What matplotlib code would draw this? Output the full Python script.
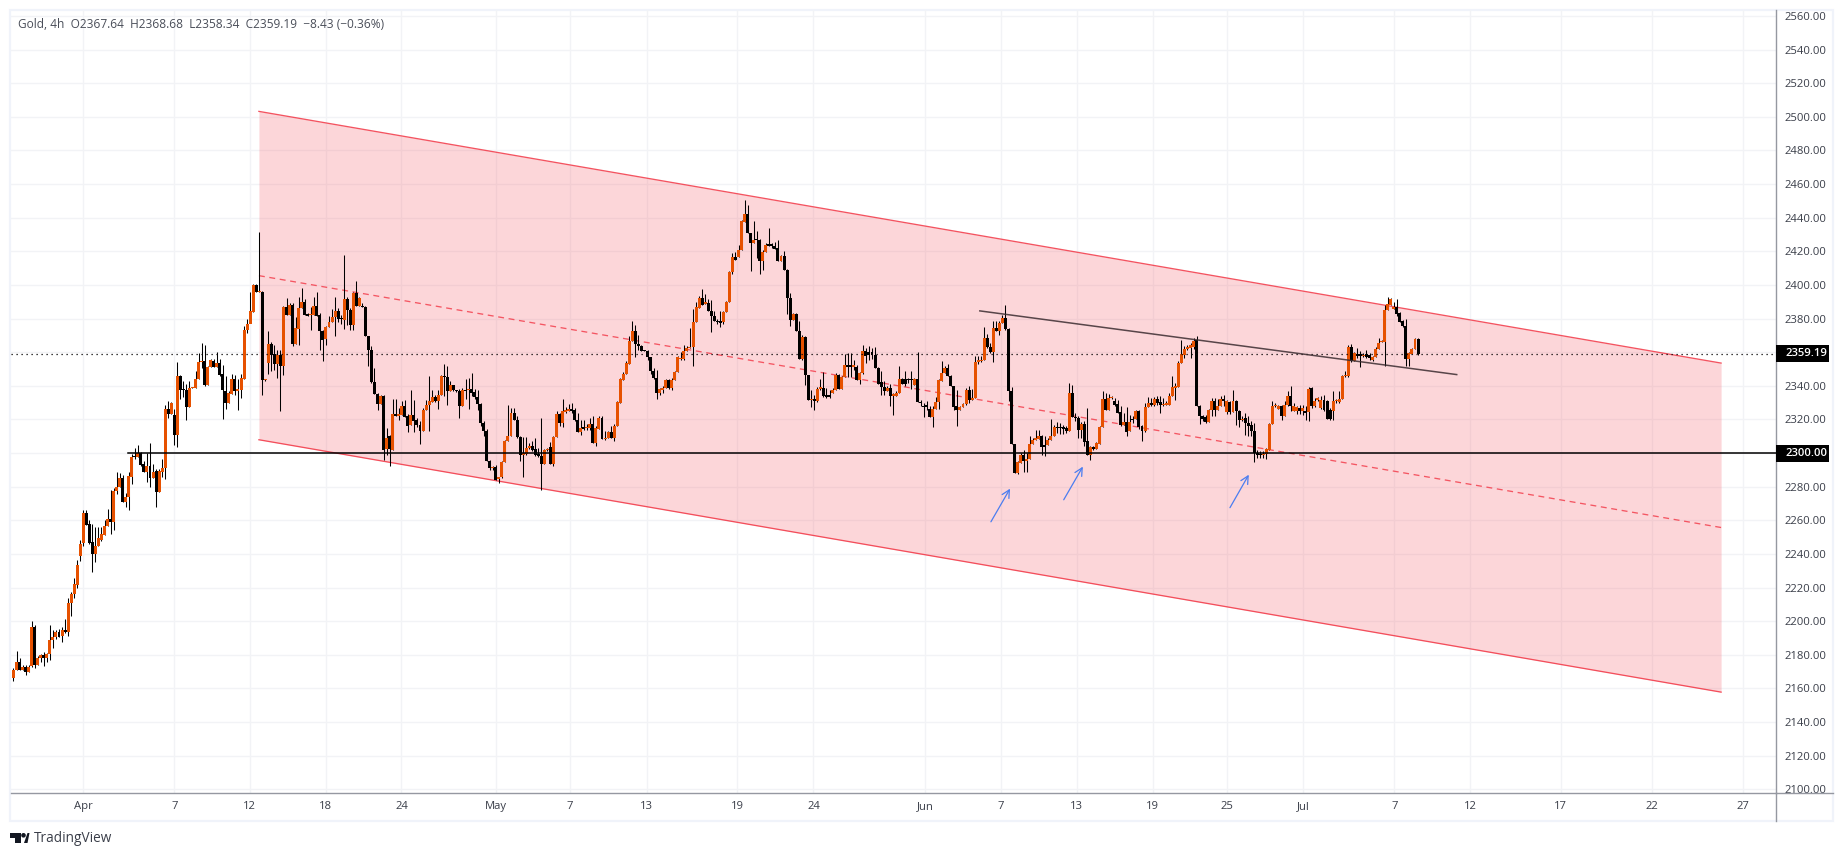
import numpy as np
import matplotlib
matplotlib.use("Agg")
import matplotlib.pyplot as plt
from matplotlib.patches import Polygon, Rectangle, Circle
from matplotlib.lines import Line2D
from matplotlib.transforms import Affine2D

plt.rcParams['font.family'] = ['Open Sans', 'DejaVu Sans']

opens = [
2166,2171,2176,2171,2173,2170,2173.3,2196.5,2174,2178,
2180,2178,2180.5,2188.6,2190.6,2193.7,2191,2195,2193.7,2211,
2216,2221.7,2239,2246.3,2264.5,2257.8,2247,2239.7,2244.5,2248.5,
2251.4,2256.4,2260.7,2258.8,2277.4,2279.6,2285,2270.7,2273.6,2286,
2297.8,2297.4,2300,2293.5,2289,2292.5,2285,2289.5,2276.6,2289,
2291,2326,2323,2322.8,2311,2346,2338,2337.7,2327.6,2338.5,
2338.7,2344,2354,2355,2340.3,2351.2,2355,2351.4,2353.8,2346.8,
2337,2329.6,2335.3,2344,2337,2337.3,2344.2,2373,2377,2384,
2400,2395.6,2396,2343.2,2353.7,2365,2359,2353,2358.5,2351.5,
2387,2381.9,2388.2,2365,2374,2386.2,2390,2382.7,2382,2382.3,
2387.6,2382,2372.8,2368,2374.7,2377.7,2380.7,2384.5,2380.3,2379.3,
2391.8,2385,2376.3,2395.4,2387.2,2387.4,2386.8,2369.8,2361.3,2342,
2335,2329,2334,2302.4,2310,2302,2322.8,2322.2,2322.8,2328,
2322.2,2316.5,2322.8,2319.4,2316.6,2312.9,2325.8,2328.4,2330.3,2333.5,
2330.7,2334.7,2346,2345.2,2336.7,2340.4,2337.3,2336.7,2328,2337.7,
2337.3,2338,2336.3,2333.3,2329,2317.8,2313.3,2295.4,2291,2291.7,
2284.5,2285.5,2294.6,2307.3,2310.3,2323.8,2319.8,2309.5,2299,2299.6,
2303.2,2304.4,2302.4,2299.6,2298.4,2293.7,2301.6,2303.8,2293.7,2309.5,
2323.4,2317.8,2324.6,2324.8,2326.2,2325.4,2319.8,2312.3,2315,2314.7,
2314.9,2317.4,2306,2314.5,2320.8,2308.3,2308.7,2312.7,2309,2315.9,
2330,2343.6,2346.8,2353,2366.4,2372.8,2364.8,2363.8,2360.9,2360.9,
2357,2349,2344.6,2336,2337.7,2338.7,2343.6,2338.7,2343.6,2348,
2356,2356,2360.5,2362.5,2362.8,2377.9,2386.2,2392.2,2388.8,2389.2,
2384.7,2381.7,2378.7,2378,2377.7,2383.7,2389.8,2407.5,2416.4,2416.4,
2420.5,2437.2,2442.4,2430.9,2424.9,2426.9,2426.5,2414,2419.5,2423.7,
2423.7,2423.3,2422,2414,2417.4,2409,2392.2,2379.3,2382.9,2372.4,
2355.9,2368.8,2346.2,2331.3,2332.3,2330.7,2338.3,2338.9,2334.3,2334,
2336,2337.7,2346.6,2338.3,2345.2,2352.3,2352.5,2351,2351.3,2343.6,
2347.6,2360.9,2360.3,2360.3,2358.5,2350.6,2342,2339.3,2336.7,2338.7,
2334.1,2334,2335.7,2344,2344,2344,2344,2340.2,2344.2,2330.5,
2328.2,2328.4,2326.2,2321.2,2326.2,2330.5,2342.6,2347.6,2350.6,2345.6,
2339.7,2327.8,2325.8,2327.2,2329.3,2337.7,2331.7,2332.7,2354.1,2354.5,
2355.1,2368.4,2363,2359.9,2374.5,2372.4,2377.3,2380.5,2374,2336.7,
2305.4,2287.9,2294,2299,2295,2296.6,2305.4,2308,2308.5,2310.3,
2305,2304.6,2308,2310.3,2315.7,2315.3,2315.5,2314.9,2312.9,2335.7,
2321.6,2320.8,2313.9,2317.2,2306.9,2298.6,2303.6,2302.2,2305.6,2315.7,
2332.3,2325.8,2332.7,2331,2329,2324.2,2316.9,2318.4,2312.9,2320.2,
2320.2,2324.8,2315.9,2313.3,2327.2,2329.7,2328.4,2332.3,2330.3,2328.4,
2328.4,2328.7,2333.7,2338.9,2339,2353.5,2358.5,2361.9,2362.4,2363,
2367.4,2328,2322.2,2321.2,2318.4,2325.8,2331.1,2325.8,2328.2,2332.1,
2324.2,2330.3,2324.4,2330.7,2325.2,2319.4,2320.8,2317.8,2316.9,2313.3,
2300,2299,2298.8,2299.4,2302,2317.2,2327.8,2326.2,2328.2,2321.8,
2328.7,2334.1,2324.8,2324.8,2326.8,2325.2,2324.8,2324.2,2338.5,2327.8,
2331.7,2326.8,2331.7,2331.1,2325.4,2324.8,2330.7,2330.1,2332.1,2345.6,
2346,2363,2354.5,2359,2358.5,2357.7,2359,2358.3,2355.5,2356.9,
2361.9,2365.8,2365.8,2384.9,2388.2,2385.6,2386.6,2383.3,2378.3,2375.7,
2355.9,2359,2361.9,2367.64]

closes = [
2171,2176,2171,2173,2170,2173,2196.5,2174,2178,2180,
2178,2180.5,2189,2190.6,2193.7,2190.6,2194.7,2193.7,2211,2216.3,
2222.3,2233.6,2246,2264.5,2257.4,2246.7,2239.7,2244.7,2249.6,2252,
2256.6,2260.7,2258.8,2277.4,2279.8,2285,2271,2273.6,2286.5,2297.8,
2297.4,2299.8,2293,2289,2292.5,2285,2289,2276.6,2289.5,2291,
2326.2,2323,2329.8,2311,2346,2337.7,2337.5,2327.6,2338.7,2339,
2344,2354.4,2354.8,2340.3,2351.4,2355.6,2351.4,2353.8,2346.6,2337.3,
2329.6,2335.7,2344,2336.7,2337.5,2344.8,2373.2,2376.8,2384.5,2400.2,
2395.6,2396,2343.2,2344,2365,2358.5,2353,2358.5,2351.5,2386.6,
2381.9,2388,2365,2374.3,2386.2,2390,2382.3,2381.7,2382.9,2387.6,
2381.7,2372.4,2367.4,2375,2378,2381,2384.5,2379.7,2379.7,2391.8,
2385.2,2376.3,2395.4,2387.2,2392,2386.6,2369.4,2361,2342,2335,
2329,2334,2302,2309,2302.4,2323.2,2322.2,2322.8,2328,2321.4,
2315.9,2322.8,2318.8,2316.5,2312.9,2325.8,2328.7,2330.7,2333.5,2330.7,
2334.7,2346,2345.2,2336.7,2340.4,2337.7,2336.7,2328,2337.7,2336.7,
2338,2335.7,2333.3,2329,2317.8,2312.9,2295.4,2290.9,2291.7,2284,
2285.7,2294.6,2307.3,2310.3,2323.8,2319.4,2309.5,2299,2300,2303.2,
2304,2302,2299,2298.4,2293.7,2302,2302.2,2293.7,2309.5,2323.4,
2317.8,2325,2325.4,2326.2,2325.2,2319.6,2312.3,2315,2314.5,2315.5,
2317.3,2306,2314.9,2320.8,2308.3,2309,2312.7,2309,2315.9,2330.3,
2344,2347,2353.5,2366.8,2372.8,2364.8,2363.6,2360.5,2360.5,2357,
2348.6,2344.6,2336,2338,2338.7,2343.6,2338.7,2343.6,2348.2,2356.9,
2356.5,2360.5,2362.5,2363.2,2377.9,2386.8,2392.2,2388.2,2389.4,2384.3,
2381.7,2378.3,2377.7,2377.5,2383.9,2389.8,2407.7,2416.4,2414.6,2420.5,
2438,2442.4,2430.9,2424.9,2426.9,2426.5,2414,2419.5,2423.5,2423.3,
2423.3,2421.5,2414,2417.4,2408.6,2392.2,2379.3,2382.9,2372.4,2355.9,
2368.8,2346.2,2331.3,2332.3,2330.7,2338.3,2338.9,2334,2333.3,2333.5,
2337.7,2346.6,2338.3,2345.2,2352.3,2351,2351,2352.3,2343.6,2347.6,
2360.9,2357.9,2358.1,2358.1,2350.4,2341.2,2339.3,2336.7,2338.7,2334.1,
2334.7,2335.7,2344,2341.2,2341.2,2343.4,2343.4,2344.2,2330.1,2329.7,
2327.2,2327.6,2321.2,2326.2,2330.5,2343.2,2347.6,2350.6,2345.6,2339.7,
2327.4,2325.8,2327.4,2329.3,2337.7,2331.3,2332.7,2354.1,2355.1,2355.1,
2368.4,2363,2359.9,2374.5,2372.4,2377.3,2380.5,2374,2336.7,2305.4,
2287.9,2294.4,2299,2295,2296.6,2305.6,2308,2308.9,2310.3,2303.4,
2303.4,2308,2310.3,2315.7,2314.9,2314.7,2314.3,2312.9,2335.7,2321.2,
2320.8,2313.9,2317.2,2306.7,2298.6,2303.6,2302.2,2306,2315.7,2332.3,
2325.8,2332.7,2333.3,2328.7,2323.8,2316.9,2318.2,2312.3,2318.2,2319.6,
2324.8,2315.5,2313.3,2327.2,2329.7,2328.4,2332,2329.7,2328.7,2329.3,
2329.7,2333.7,2339,2339.5,2353.5,2359.1,2361.9,2363,2364.4,2366.8,
2327.8,2321.8,2320.4,2318.4,2325.8,2331.1,2325.8,2328.2,2332.1,2330.7,
2330.7,2324.4,2330.7,2324.8,2319.4,2320.4,2317.8,2316.3,2312.9,2300,
2298.6,2298.6,2299.4,2302.4,2317.4,2328.2,2328.2,2328.2,2321.8,2328.7,
2334.1,2327.8,2327.8,2327.2,2324.8,2326.8,2323.8,2338.3,2327.8,2331.1,
2332.3,2331.7,2325.8,2320.4,2320.4,2331.1,2331.3,2332.1,2346,2346,
2363,2354.5,2359.5,2357.9,2357.9,2358.5,2357,2356.7,2357,2362,
2365.4,2366.2,2385,2388.8,2391.8,2386.6,2382.9,2377.7,2375.3,2355.9,
2359.5,2362,2368,2359.19]

highs = [
2172,2182,2178,2174,2174,2174,2200,2198,2179.5,2180.5,
2181.6,2181,2198,2195,2194.5,2195.3,2196.7,2201,2213.8,2217.5,
2225.9,2236.6,2248,2266,2266,2260,2258,2256,2256,2256,
2260.3,2267,2277.8,2279,2289,2288,2287,2276,2289,2299.2,
2303,2305,2300.5,2295,2300,2306,2293.7,2290.7,2290.5,2296.4,
2328.8,2330.8,2330.4,2326,2354,2346.2,2342.7,2341,2342.7,2339.2,
2349,2359.5,2365.5,2364.5,2351.5,2356,2356,2360,2356,2352.6,
2345.6,2336.7,2347,2346.6,2344,2347,2375.4,2379.8,2395.6,2400.8,
2400.8,2431.6,2396.2,2344.2,2372.8,2366,2364.4,2361.5,2361.5,2387.2,
2392,2389.2,2389.2,2381,2393,2398,2391.6,2383.3,2387,2393,
2395.8,2383.3,2373.2,2375.3,2381.3,2385.6,2392.8,2386,2382,2418,
2392.8,2386.2,2396,2402.5,2392.8,2389,2387.2,2369.8,2363.8,2350.6,
2335.7,2334.7,2334.7,2315,2310.9,2332,2332,2326.8,2330.7,2331.7,
2323.4,2337.7,2331.7,2320.8,2318.8,2326.8,2331.3,2345.6,2337.3,2334.7,
2337.7,2346.6,2353,2351.5,2342.6,2340.6,2337.7,2338,2338.7,2344,
2344.6,2347.6,2338,2337.3,2330,2318.8,2314.3,2296,2292,2293,
2286,2295,2308,2328.7,2326.8,2326.8,2321.8,2310,2309.5,2309.5,
2306,2307,2308.8,2303,2320.8,2302.4,2303,2306.3,2310,2324.8,
2323.8,2332,2327.4,2329.3,2330,2326.8,2323.8,2319.8,2319.8,2317,
2320.8,2321.8,2315.9,2321.8,2321.8,2312.9,2312.9,2315.9,2317.4,2330.7,
2344.6,2348.2,2354.5,2369.8,2378.7,2376.3,2370,2364.4,2361.2,2361.2,
2357,2350.6,2349.6,2338.7,2339.7,2344.2,2344,2344.6,2348.6,2357.5,
2359.9,2364.4,2363.4,2374.3,2385.8,2389.6,2393.2,2397.7,2394.6,2391.6,
2391.2,2384.3,2379.7,2384.3,2384.3,2390.6,2408.1,2419,2419.6,2424,
2438.4,2450.7,2447.7,2430.9,2437.8,2431.8,2427.5,2420.9,2424.9,2433.8,
2425,2425.5,2426.9,2418,2420,2409.4,2395,2383.3,2383.3,2378.3,
2370.4,2369.8,2346.6,2337.7,2334.7,2339.3,2344.2,2348,2338.7,2337.3,
2338.7,2347.6,2347.2,2345.6,2359,2359.5,2359.5,2355.2,2352.5,2348,
2364.4,2362.5,2363.4,2362.5,2363,2351.2,2348.6,2342.6,2339.7,2341.2,
2335.7,2336.7,2351.5,2344.6,2348.6,2344.6,2348.6,2344.6,2360,2331.7,
2329.8,2330.7,2327.8,2327.8,2333.3,2344,2354.5,2352,2353,2346.6,
2340.1,2337.7,2328.2,2329.7,2338.7,2339.7,2338.3,2357.9,2357.9,2357.8,
2374.9,2370.8,2365.4,2378.3,2378.3,2378.3,2382.3,2388.2,2374.3,2339.3,
2305.4,2295,2300,2302,2300,2310,2308.9,2313.9,2313.9,2310.9,
2309.9,2308.9,2320.2,2316.9,2318.2,2317.8,2316.9,2316.3,2341.6,2340.6,
2323.8,2321.8,2318.2,2318.8,2327,2304,2304,2306.3,2316.3,2336.7,
2336,2335.3,2333.7,2332.7,2331.7,2327.8,2323.8,2327.4,2322.8,2321.8,
2325.8,2325.8,2316.9,2329.7,2333.3,2332.7,2333.3,2333.7,2333.7,2332.7,
2330.7,2335.7,2346,2341.6,2354.5,2367.4,2363.4,2364.4,2365.4,2368.4,
2369.4,2328.7,2322.8,2322.8,2326.2,2332.7,2332.7,2332,2334.1,2334.7,
2331.7,2330.7,2337.7,2331.3,2325.8,2321.8,2323.8,2321.8,2318.8,2318,
2302,2301,2301,2303,2317.8,2330.7,2329.7,2328.7,2328.7,2330.7,
2336.7,2340,2329.7,2327.8,2328.7,2328.7,2327.8,2339,2339,2332.7,
2333.3,2333.7,2334.7,2331.7,2326.8,2336.7,2332.1,2336.7,2346.6,2348.6,
2364.4,2365,2360,2362.5,2360.5,2359.5,2361.5,2359.5,2357.9,2363,
2368.4,2367,2388.2,2392.8,2392.2,2390,2391.4,2383.7,2378.9,2379.7,
2359.9,2362.5,2368.4,2368.68]

lows = [
2164.2,2171,2171,2171,2168,2170,2173,2172,2174,2175.5,
2173.5,2176,2177,2184,2189.6,2190.6,2187.8,2193,2191.4,2202.9,
2214,2220,2235.6,2244.5,2257.4,2246,2229,2235,2244.5,2247.5,
2251.4,2256.4,2251.6,2254.4,2275.8,2279.6,2271,2268,2266,2281.4,
2296.4,2297.4,2292,2289,2283,2280,2285,2268,2276.6,2285.5,
2284.5,2320.8,2323,2304.6,2303.4,2332,2333.3,2319.4,2327.6,2338.4,
2338.7,2344,2350.6,2339.7,2340.3,2351.2,2351.4,2351.4,2345.6,2320,
2326.4,2329.6,2335.3,2334.7,2325.8,2332.7,2344.2,2371.4,2383.3,2384,
2395.6,2395.6,2334.3,2343,2347,2349,2349.6,2344.6,2324.8,2346.6,
2381.9,2381.9,2363.4,2365,2364,2386.2,2382.3,2381.3,2373.4,2382.3,
2381.7,2361.5,2355,2364.4,2374.7,2377.7,2369.8,2377.7,2377,2373.8,
2376.3,2373.4,2373.4,2387.2,2387.2,2386.6,2369.4,2352,2341.6,2335,
2325.4,2329,2296,2299,2292,2302,2321.8,2319.8,2322.8,2321.4,
2312.3,2316.5,2312.5,2315.5,2305.6,2312.9,2325.8,2313.3,2330.3,2330.1,
2326.4,2334.7,2333.7,2328.7,2336.7,2336.7,2336.5,2320.8,2328,2332,
2326,2333.7,2332,2325.8,2315.9,2310,2295.4,2289.7,2290,2283.7,
2282,2284.9,2294.6,2307.3,2310.3,2319.4,2308.9,2295,2286,2299,
2302.4,2301,2298.4,2297.6,2277.8,2293.7,2301,2293.7,2292,2309.5,
2315.9,2315.5,2323.8,2324.8,2323.8,2319,2312.3,2311,2313.9,2313.9,
2313.9,2306,2304,2314.5,2308.3,2307.9,2308.7,2308.7,2307,2315.9,
2330,2343.6,2346.8,2353,2366.4,2357,2361.5,2360.5,2360.5,2355.5,
2347,2344,2332,2334.7,2335.7,2338.7,2338,2337.3,2343.6,2348,
2355.5,2355.5,2360.5,2362.5,2352,2377.9,2386.2,2388.2,2388.8,2384.3,
2371.8,2378.3,2376.9,2374.7,2376.9,2383.7,2389.8,2406.5,2414.6,2416.4,
2420.5,2437.2,2430.9,2408,2424.9,2416,2406.7,2409,2419.5,2422.9,
2421.9,2421.5,2414,2414,2408.6,2382.9,2375.3,2379.3,2372.4,2355.9,
2355.5,2340.6,2331.3,2327.4,2325.8,2330.3,2337.7,2333.3,2332.7,2332.9,
2335.7,2337.7,2338.3,2338.3,2345.2,2345.2,2345.2,2349.6,2343.6,2341,
2347.2,2353.5,2355.5,2356.1,2350.4,2341.2,2334.7,2334.7,2336.7,2328,
2322.8,2334,2335.7,2341.2,2339.7,2341.6,2338,2340.2,2330.1,2327.8,
2321.4,2325.8,2321.2,2315.3,2326.2,2326.2,2342.6,2347.6,2345.6,2339.7,
2325.8,2316.3,2325.8,2327.2,2328.7,2329.7,2331.7,2332.7,2353.1,2353.9,
2355.1,2362.5,2359.5,2353.9,2372.4,2370.4,2377.3,2373.4,2331,2305.4,
2287.9,2287.5,2294,2288.5,2288.5,2296.6,2305.4,2308,2308.5,2299,
2298,2304.6,2308,2309.9,2311.9,2311.5,2311.5,2311.9,2312.9,2321.2,
2318.8,2308.9,2308.9,2304,2298.6,2296,2302,2302.2,2305.6,2315.7,
2325.8,2325.8,2332.1,2327.8,2323.8,2316.3,2316.9,2310,2312.9,2317.8,
2320.2,2314.3,2306.9,2312.5,2327.2,2327.8,2327.8,2328.4,2324,2327.8,
2328.4,2328.7,2333.7,2331.7,2339,2353.5,2356.5,2361.5,2356.5,2361.9,
2327.8,2317.2,2318.8,2317.8,2318.4,2321.8,2321.8,2325.8,2327.8,2327.8,
2323.4,2323.4,2324.4,2316.9,2315.5,2318.8,2310.9,2310,2309.9,2294.4,
2297,2297,2297,2296.6,2302,2317.2,2327.4,2326.2,2319.4,2321.8,
2327.8,2324.8,2324.8,2323.4,2323.4,2322.8,2319.4,2319,2326.8,2327.4,
2331.1,2326.2,2324.8,2320.4,2319.4,2319.8,2329.7,2329.7,2332.1,2345.2,
2345.2,2354,2354.5,2356.5,2351,2357,2356.5,2355.5,2354.5,2356.9,
2361.9,2365.8,2351.5,2384.9,2388.2,2385.6,2381.3,2377.7,2375,2351.5,
2351.5,2359,2361.9,2358.34]

date_labels = ['Apr','7','12','18','24','May','7','13','19','24','Jun','7','13','19','25','Jul','7','12','17','22','27']
date_bars = [23,53.07,77.8,102.85,127.9,158.96,183.45,208.7,238.6,263.7,300.6,325.4,350.5,375.5,400,425.2,455.2,480.2,510,540,570]
price_ticks = list(range(2100, 2561, 20))
hidden_ticks = [2300, 2360]

channel_x = [80.9, 562.9]
channel_top = [2503.2, 2353.5]
channel_bottom = [2307.9, 2157.8]
channel_mid = [2405.5, 2255.7]
trend_x = [318.3, 476]
trend_y = [2384.6, 2346.6]
support_level = 2300.0
support_start = 37.8
last_price = 2359.19
arrow_x = [(322.2, 328.5), (346.2, 352.5), (401, 407.2)]
arrow_y = [(2259.1, 2278.8), (2272.2, 2291.9), (2267.5, 2287.1)]

UP = '#e65100'
DOWN = '#000000'
RED = '#f23645'
PANEL = '#f0f3fa'
AXIS = '#9598a1'
TXT = '#3a3e49'

W, H = 1843, 856
fig = plt.figure(figsize=(W/100, H/100), dpi=100, facecolor='white')
px = Affine2D().scale(1, -1).translate(0, H)

fig.add_artist(Rectangle((10, 10), 1823, 811, fc='white', ec=PANEL, lw=1.6, transform=px, zorder=-5))

ax = fig.add_axes([11/W, (H-793)/H, (1775.7-11)/W, (793-10)/H], facecolor='none')
ax.set_xlim(-0.824, 580.9)
ax.set_ylim(2097.8, 2563.5)

O, C, Hi, Lo = map(np.array, (opens, closes, highs, lows))
x = np.arange(len(O))
up = C >= O

ax.set_axisbelow(True)
ax.grid(True, color='#f2f3f6', lw=1.0, zorder=0)

ax.fill_between(channel_x, channel_bottom, channel_top, color=RED, alpha=0.2, lw=0, zorder=1)
ax.plot(channel_x, channel_top, color=RED, lw=0.95, alpha=0.85, zorder=2)
ax.plot(channel_x, channel_bottom, color=RED, lw=0.95, alpha=0.85, zorder=2)
ax.plot(channel_x, channel_mid, color=RED, lw=0.95, alpha=0.8, ls=(0, (4.5, 3.5)), zorder=2)

ax.vlines(x, Lo, Hi, color='black', lw=0.75, zorder=3)
body_h = np.maximum(np.abs(C-O), 0.8)
body_b = np.minimum(O, C)
ax.bar(x[up], body_h[up], bottom=body_b[up], width=0.98, color=UP, lw=0, zorder=4, antialiased=False)
ax.bar(x[~up], body_h[~up], bottom=body_b[~up], width=0.98, color=DOWN, lw=0, zorder=4, antialiased=False)

ax.plot([-0.824, 580.9], [last_price]*2, color='black', lw=0.9, ls=(0, (1, 3)), zorder=5)
ax.plot([support_start, 580.9], [support_level]*2, color='black', lw=1.1, zorder=5)
ax.plot(trend_x, trend_y, color='#3b2c30', lw=1.1, alpha=0.85, zorder=5, solid_capstyle='butt')

for ax_x, ax_y in zip(arrow_x, arrow_y):
    ax.annotate('', xy=(ax_x[1], ax_y[1]), xytext=(ax_x[0], ax_y[0]),
                arrowprops=dict(arrowstyle='->,head_length=0.55,head_width=0.28',
                                color='#4a7df0', lw=0.9, shrinkA=0, shrinkB=0), zorder=6)

for s in ('top', 'left'):
    ax.spines[s].set_visible(False)
ax.spines['right'].set_color(AXIS)
ax.spines['bottom'].set_color(AXIS)
ax.spines['right'].set_linewidth(1.0)
ax.spines['bottom'].set_linewidth(1.0)
fig.add_artist(Line2D([1775.7, 1775.7], [793, 821], color=AXIS, lw=1.0, transform=px))
fig.add_artist(Line2D([1775.7, 1833], [793, 793], color=AXIS, lw=1.0, transform=px))

ax.yaxis.tick_right()
ax.set_yticks(price_ticks)
ax.set_yticklabels(['' if p in hidden_ticks else f'{p:.2f}' for p in price_ticks],
                   fontsize=8.1, color=TXT)
ax.set_xticks(date_bars)
ax.set_xticklabels(date_labels, fontsize=8.1, color=TXT)
ax.tick_params(axis='y', length=0, pad=6.2)
ax.tick_params(axis='x', length=0, pad=5.5)

for level, label in ((last_price, f'{last_price:.2f}'), (support_level, f'{support_level:.2f}')):
    _, yd = ax.transData.transform((0, level))
    fig.add_artist(Rectangle((1775.5, H-yd-8.5), 53, 17, fc='black', ec='none', transform=px, zorder=11))
    fig.text(1785/W, yd/H, label, fontsize=8.1, color='white', fontweight='semibold',
             va='center', ha='left', zorder=12)

fig.text(18/W, (H-25)/H, 'Gold, 4h  O2367.64  H2368.68  L2358.34  C2359.19  \u22128.43 (\u22120.36%)',
         fontsize=8.6, color='#4a4e59', va='center', ha='left')

# TradingView logo and wordmark
fig.add_artist(Polygon([(10, 833), (21, 833), (21, 843), (15, 843), (15, 837.5), (10, 837.5)],
                       closed=True, fc='#131722', ec='none', transform=px))
fig.add_artist(Circle((23.5, 835.3), 2.3, fc='#131722', ec='none', transform=px))
fig.add_artist(Polygon([(24, 843), (27.5, 833), (29.5, 833), (27.5, 843)],
                       closed=True, fc='#131722', ec='none', transform=px))
fig.text(33.5/W, (H-838.5)/H, 'TradingView', fontsize=9.8, color='#3a3e49', va='center', ha='left')

fig.savefig('out.png', dpi=100)
